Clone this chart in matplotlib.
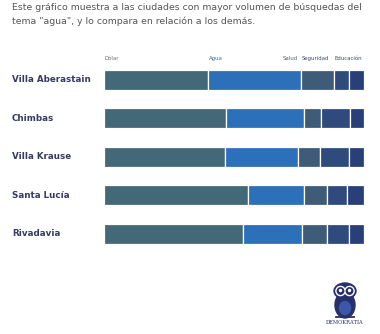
import numpy as np
import matplotlib.pyplot as plt
from matplotlib.patches import Ellipse, Circle
from matplotlib import transforms

ciudades = ['Villa Aberastain', 'Chimbas', 'Villa Krause', 'Santa Lucía', 'Rivadavia']
temas = ['Dólar', 'Agua', 'Salud', 'Seguridad', 'Educación']
dolar = [39.9, 47.1, 46.7, 55.3, 53.5]
agua = [35.8, 29.8, 27.9, 21.8, 22.7]
salud = [12.8, 6.7, 8.6, 8.5, 9.4]
seguridad = [5.9, 11.0, 11.2, 7.9, 8.8]
educacion = [5.6, 5.4, 5.6, 6.5, 5.6]

colores = ['#436878', '#2b70b8', '#3e5b77', '#2f4b7e', '#283f7a']
font = 'DejaVu Sans'

fig = plt.figure(figsize=(3.8, 3.34), dpi=100)
fig.patch.set_facecolor('white')

fig.text(12/380, 1 - 8/334, 'Este gráfico muestra a las ciudades con mayor volumen de búsquedas del',
         fontsize=6.75, color='#555555', va='center', ha='left', family=font)
fig.text(12/380, 1 - 21/334, 'tema "agua", y lo compara en relación a los demás.',
         fontsize=6.75, color='#555555', va='center', ha='left', family=font)

ax = fig.add_axes([104/380, 1 - 252.8/334, 260/380, 192/334])
y = np.arange(len(ciudades))
series = [dolar, agua, salud, seguridad, educacion]
left = np.zeros(len(ciudades))
for vals, c in zip(series, colores):
    ax.barh(y, vals, left=left, height=0.52, color=c, edgecolor='white', linewidth=0.9)
    left += np.array(vals)

ax.set_xlim(0, left.max())
ax.set_ylim(len(ciudades) - 0.5, -0.5)
ax.axis('off')

# city names
trans = transforms.blended_transform_factory(fig.transFigure, ax.transData)
for i, name in enumerate(ciudades):
    ax.text(12/380, i, name, transform=trans, fontsize=6.3, fontweight='bold',
            color='#363b66', va='center', ha='left', family=font)

# topic labels above first bar
starts = np.cumsum([0] + [s[0] for s in series])
lab_y = -0.57
ax.text(starts[0] + 0.3, lab_y, temas[0], fontsize=3.9, color='#6a6f7a', va='center', ha='left', clip_on=False)
ax.text(starts[1] + 0.3, lab_y, temas[1], fontsize=3.9, color='#3f6fae', va='center', ha='left', clip_on=False)
ax.text(starts[2] - 1.2, lab_y, temas[2], fontsize=3.9, color='#5a5f6a', va='center', ha='right', clip_on=False)
ax.text(starts[2] + 0.3, lab_y, temas[3], fontsize=3.9, color='#3d4a66', va='center', ha='left', clip_on=False)
ax.text(starts[3] + 0.3, lab_y, temas[4], fontsize=3.9, color='#3d4a66', va='center', ha='left', clip_on=False)

# logo
lg = fig.add_axes([322/380, 1 - 327/334, 46/380, 50/334])
lg.set_xlim(0, 46)
lg.set_ylim(0, 50)
lg.set_aspect('equal')
lg.axis('off')
navy = '#26306a'
lg.add_patch(Ellipse((23, 22), 20, 26, color=navy))
lg.add_patch(Ellipse((23, 36), 22, 16, color=navy))
lg.add_patch(Circle((18.5, 36), 4.6, color='white'))
lg.add_patch(Circle((27.5, 36), 4.6, color='white'))
lg.add_patch(Circle((18.5, 36), 3.2, color=navy))
lg.add_patch(Circle((27.5, 36), 3.2, color=navy))
lg.add_patch(Circle((18.5, 36.5), 1.0, color='white'))
lg.add_patch(Circle((27.5, 36.5), 1.0, color='white'))
lg.add_patch(Ellipse((23, 19), 11, 13, color='#3c57a8'))
lg.plot([14, 32], [10.5, 10.5], color=navy, lw=1.3)
lg.text(23, 5, 'DEMOKRATIA', fontsize=3.7, family='DejaVu Serif', color='#2b2f55',
        ha='center', va='center')

fig.savefig('out.png', dpi=100, facecolor='white')
